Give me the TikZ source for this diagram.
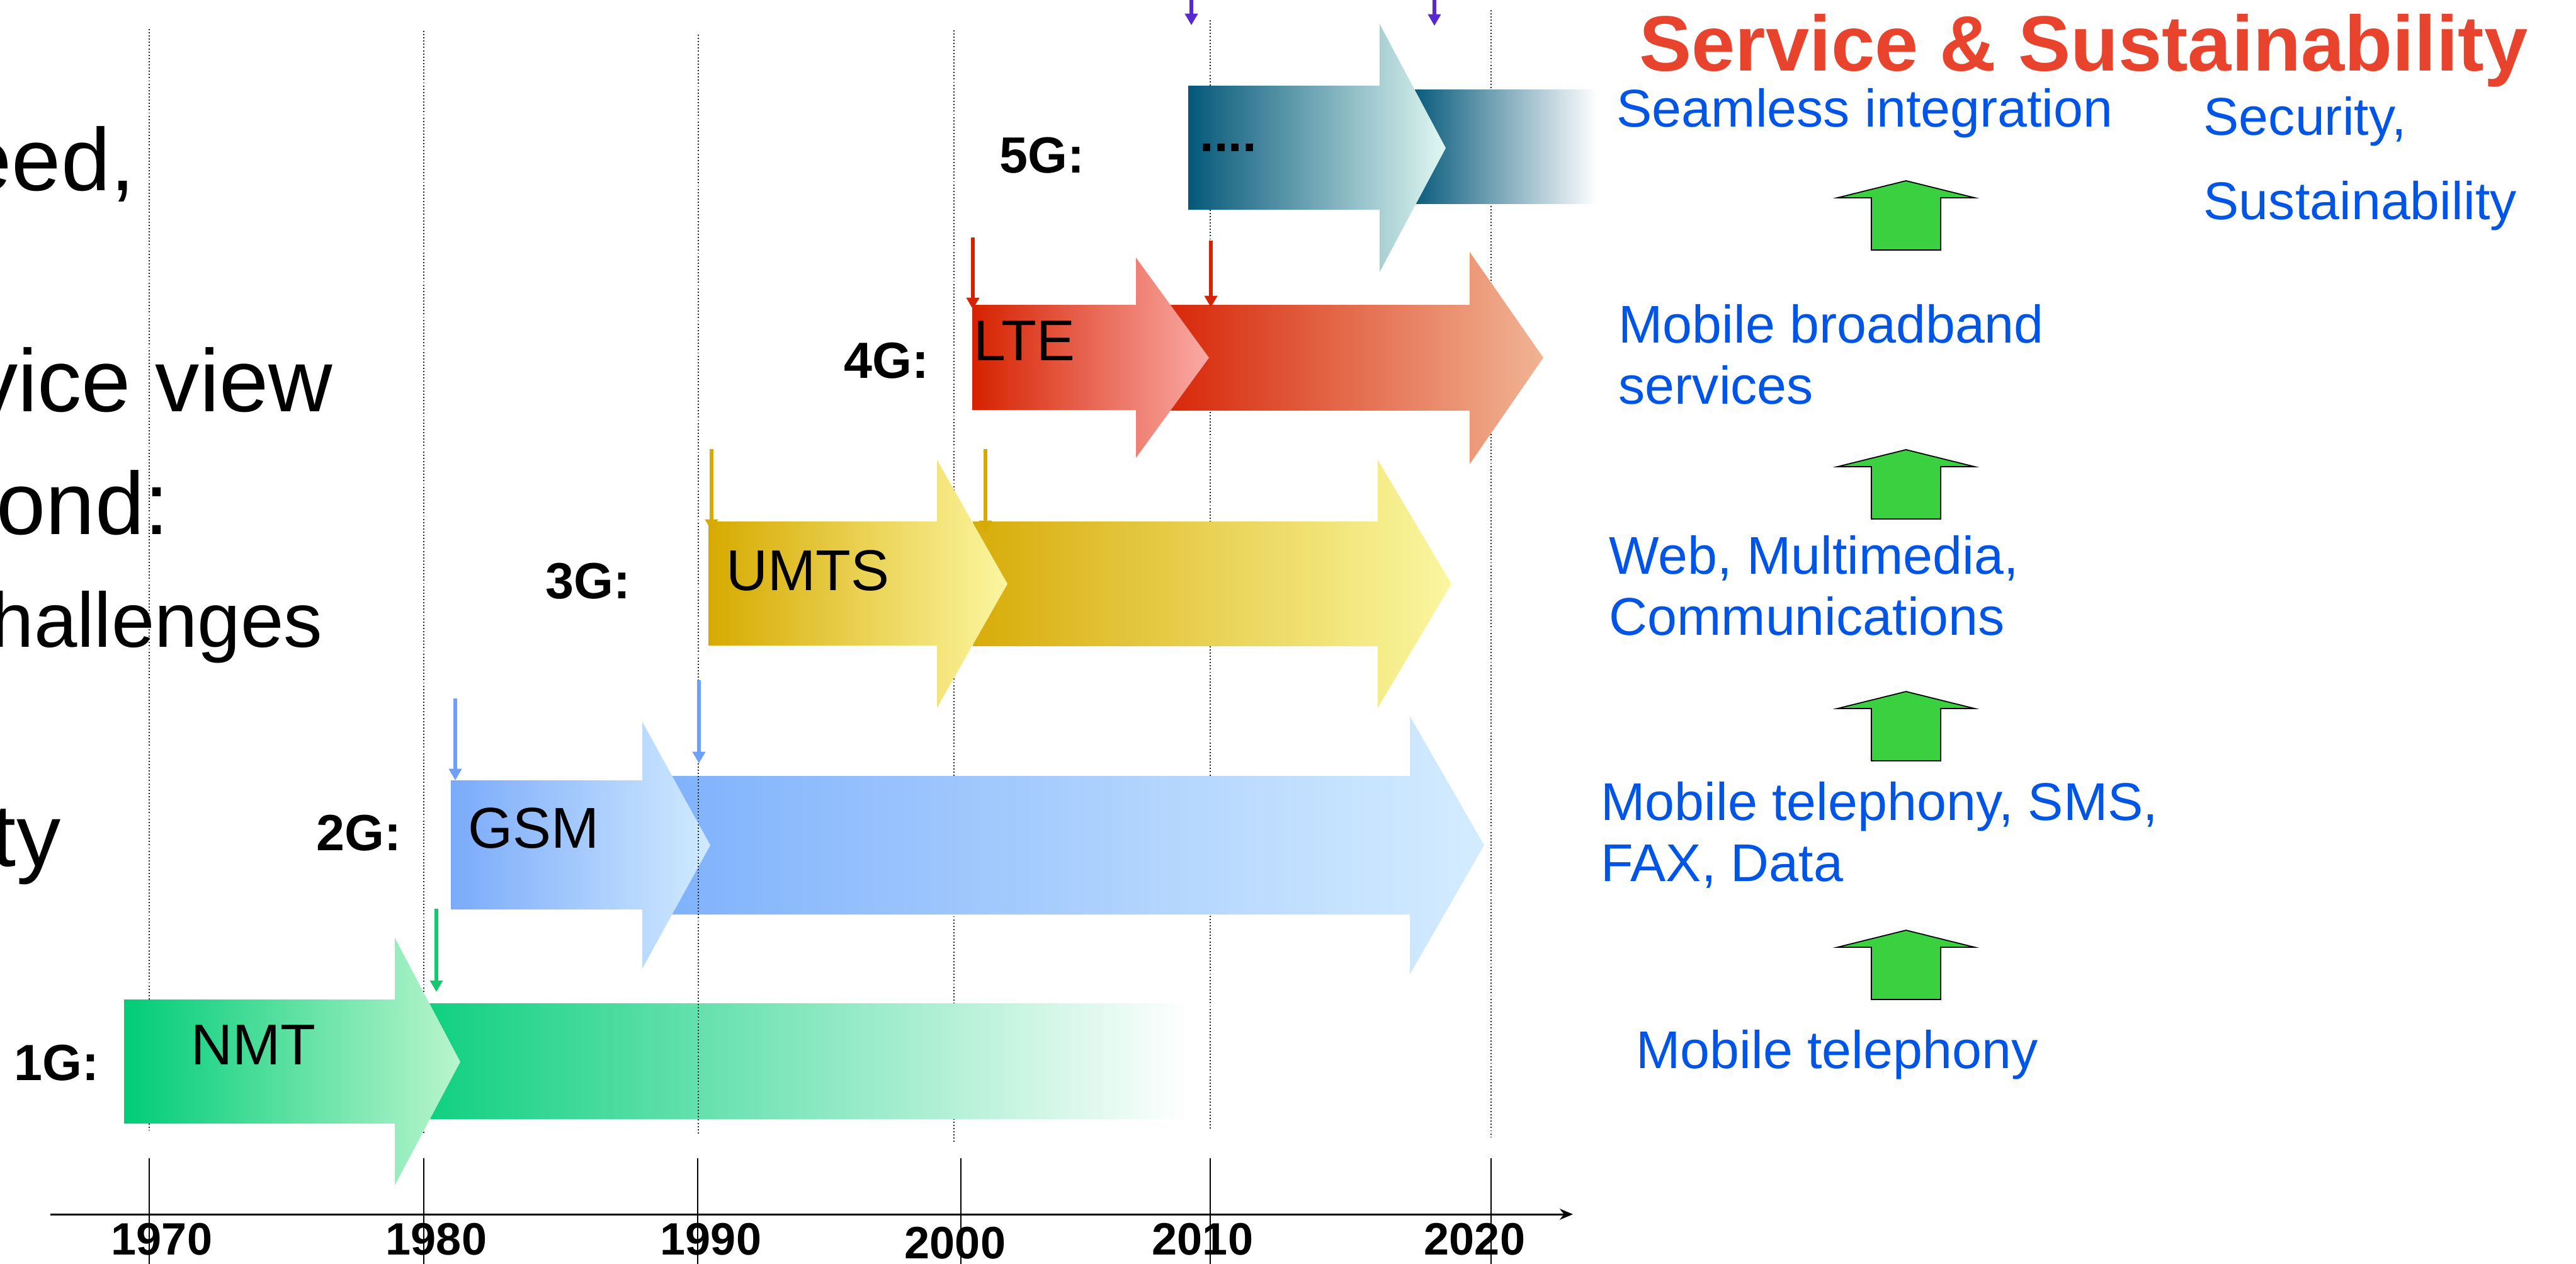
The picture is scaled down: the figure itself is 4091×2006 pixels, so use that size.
\documentclass[tikz,border=0pt]{standalone}
\usepackage{fontspec}
\setmainfont{Liberation Sans}
\usetikzlibrary{arrows.meta, positioning}
\definecolor{nmtA}{RGB}{0,204,120}
\definecolor{nmtB}{RGB}{185,245,205}
\definecolor{nmtlong}{RGB}{16,208,128}
\definecolor{gsmA}{RGB}{122,170,250}
\definecolor{gsmB}{RGB}{208,234,255}
\definecolor{gsmlongA}{RGB}{128,178,252}
\definecolor{gsmlongB}{RGB}{212,236,255}
\definecolor{umtsA}{RGB}{214,170,0}
\definecolor{umtsB}{RGB}{252,246,160}
\definecolor{umtslongA}{RGB}{216,172,10}
\definecolor{umtslongB}{RGB}{250,247,160}
\definecolor{lteA}{RGB}{214,34,0}
\definecolor{lteB}{RGB}{250,170,165}
\definecolor{ltelongA}{RGB}{216,40,10}
\definecolor{ltelongB}{RGB}{240,180,148}
\definecolor{fiveA}{RGB}{5,88,122}
\definecolor{fiveB}{RGB}{225,248,242}
\definecolor{fivelong}{RGB}{10,92,125}
\definecolor{dropgreen}{RGB}{20,200,110}
\definecolor{dropblue}{RGB}{110,160,250}
\definecolor{dropgold}{RGB}{214,170,0}
\definecolor{dropred}{RGB}{214,34,0}
\definecolor{droppurple}{RGB}{90,40,210}
\definecolor{servblue}{RGB}{0,85,230}
\definecolor{titlered}{RGB}{232,68,45}
\definecolor{upgreen}{RGB}{58,208,64}

\begin{document}
\begin{tikzpicture}[x=0.1mm, y=-0.1mm,
    grid line/.style={black!85, line width=0.55pt, dash pattern=on 0.55pt off 0.9pt},
    tick line/.style={black, line width=0.45pt},
    drop arrow/.style={line width=1.5pt, -{Triangle[length=5.2pt,width=5.6pt]}},
    gen label/.style={font=\fontsize{23}{26}\selectfont\bfseries, inner sep=0pt, anchor=base west},
    tech label/.style={font=\fontsize{26}{30}\selectfont, inner sep=0pt, anchor=base west},
    service text/.style={font=\fontsize{24}{28}\selectfont, text=servblue, inner sep=0pt, anchor=base west},
    slide text/.style={font=\fontsize{40}{48}\selectfont, inner sep=0pt, anchor=base east},
    year label/.style={font=\fontsize{20.5}{24}\selectfont\bfseries, inner sep=0pt, anchor=base},
    up arrow/.style={draw=black, line width=0.5pt, fill=upgreen, line join=miter}
]
\clip (0,0) rectangle (4091,2006);
%------------------------------
% grid of years
%______________________________
\foreach \gx/\gtop/\gbot in {237/46/1795, 673/49/1800, 1515/48/1815, 1922/32/1795, 2368/16/1805} {
    \draw[grid line] (\gx,\gtop) -- (\gx,\gbot);
}
%------------------------------
% 1G
%______________________________
\shade[left color=nmtlong, right color=white] (680,1593) rectangle (1891,1776);
\shade[left color=nmtA, right color=nmtB] (197,1587) -- (627,1587) -- (627,1489) -- (731,1686)
    -- (627,1882) -- (627,1784) -- (197,1784) -- cycle;
%------------------------------
% 2G
%______________________________
\shade[left color=gsmlongA, right color=gsmlongB] (1066,1232) -- (2239,1232) -- (2239,1137) -- (2357,1342)
    -- (2239,1547) -- (2239,1452) -- (1066,1452) -- cycle;
\shade[left color=gsmA, right color=gsmB] (716,1239) -- (1020,1239) -- (1020,1146) -- (1128,1342)
    -- (1020,1538) -- (1020,1444) -- (716,1444) -- cycle;
%------------------------------
% 3G
%______________________________
\shade[left color=umtslongA, right color=umtslongB] (1545,828) -- (2188,828) -- (2188,730) -- (2305,927)
    -- (2188,1124) -- (2188,1026) -- (1545,1026) -- cycle;
\shade[left color=umtsA, right color=umtsB] (1125,828) -- (1488,828) -- (1488,730) -- (1600,927)
    -- (1488,1124) -- (1488,1025) -- (1125,1025) -- cycle;
%------------------------------
% 4G
%______________________________
\shade[left color=ltelongA, right color=ltelongB] (1859,484) -- (2334,484) -- (2334,400) -- (2451,568)
    -- (2334,737) -- (2334,652) -- (1859,652) -- cycle;
\shade[left color=lteA, right color=lteB] (1544,484) -- (1804,484) -- (1804,409) -- (1920,568)
    -- (1804,727) -- (1804,651) -- (1544,651) -- cycle;
%------------------------------
% 5G
%______________________________
\shade[left color=fivelong, right color=white] (2247,142) rectangle (2536,323);
\shade[left color=fiveA, right color=fiveB] (1887,136) -- (2191,136) -- (2191,38) -- (2296,235)
    -- (2191,432) -- (2191,333) -- (1887,333) -- cycle;
%
\draw[grid line] (1109,55) -- (1109,1800);
%
% launch markers
\draw[drop arrow, dropgreen] (693,1443) -- (693,1575);
\draw[drop arrow, dropblue] (723,1109) -- (723,1239);
\draw[drop arrow, dropblue] (1110,1080) -- (1110,1212);
\draw[drop arrow, dropgold] (1130,713) -- (1130,843);
\draw[drop arrow, dropgold] (1565,713) -- (1565,845);
\draw[drop arrow, dropred] (1545,377) -- (1545,491);
\draw[drop arrow, dropred] (1923,382) -- (1923,488);
\draw[drop arrow, droppurple] (1892,-20) -- (1892,40);
\draw[drop arrow, droppurple] (2278,-20) -- (2278,41);
%
\node[gen label] (g1) at (22,1715) {1G:};
\node[tech label] (nmt) at (303,1690) {NMT};
\node[gen label] (g2) at (502,1350) {2G:};
\node[tech label] (gsm) at (743,1346) {GSM};
\node[gen label] (g3) at (866,950) {3G:};
\node[tech label] (umts) at (1153,937) {UMTS};
\node[gen label] (g4) at (1340,600) {4G:};
\node[tech label] (lte) at (1546,572) {LTE};
\node[gen label] (g5) at (1587,274) {5G:};
\node[gen label] (dots) at (1905,240) {....};
%
% cut-off slide text
\node[slide text] (speed) at (215,302) {eed,};
\node[slide text] (view) at (529,653) {vice view};
\node[slide text] (beyond) at (269,848) {ond:};
\node[slide text, font=\fontsize{35}{42}\selectfont] (chall) at (513,1027) {hallenges};
\node[slide text] (ty) at (97,1375) {ty};
%------------------------------
% time axis
%______________________________
\coordinate (axis start) at (80,1928);
\coordinate (axis end) at (2498,1928);
\draw[black, line width=0.85pt, -{Stealth[length=6pt,width=5pt]}] (axis start) -- (axis end);
\foreach \yr/\tx/\lx/\ly in {1970/237/257/1992, 1980/673/693/1992, 1990/1108/1129/1992,
                              2000/1526/1517/1998, 2010/1922/1910/1992, 2020/2368/2342/1992} {
    \draw[tick line] (\tx,1839) -- (\tx,2030);
    \node[year label] (y\yr) at (\lx,\ly) {\yr};
}
%------------------------------
% services
%______________________________
\node[font=\fontsize{35.4}{40}\selectfont\bfseries, text=titlered, inner sep=0pt, anchor=base west]
    (title) at (2603,112) {Service \& Sustainability};
\node[service text] (seam) at (2567,201) {Seamless integration};
\node[service text] (secu) at (3499,214) {Security,};
\node[service text] (sust) at (3499,348) {Sustainability};
\node[service text] (mbb1) at (2570,544) {Mobile broadband};
\node[service text] (mbb2) at (2570,641) {services};
\node[service text] (web1) at (2555,911) {Web, Multimedia,};
\node[service text] (web2) at (2555,1008) {Communications};
\node[service text] (tel1) at (2542,1302) {Mobile telephony, SMS,};
\node[service text] (tel2) at (2542,1399) {FAX, Data};
\node[service text] (tel0) at (2598,1696) {Mobile telephony};
%
\foreach \t in {287,714,1098,1477} {
    \draw[up arrow] (3027,\t) -- (3136,\t+27) -- (3082,\t+27) -- (3082,\t+110)
        -- (2972,\t+110) -- (2972,\t+27) -- (2918,\t+27) -- cycle;
}
\end{tikzpicture}
\end{document}
